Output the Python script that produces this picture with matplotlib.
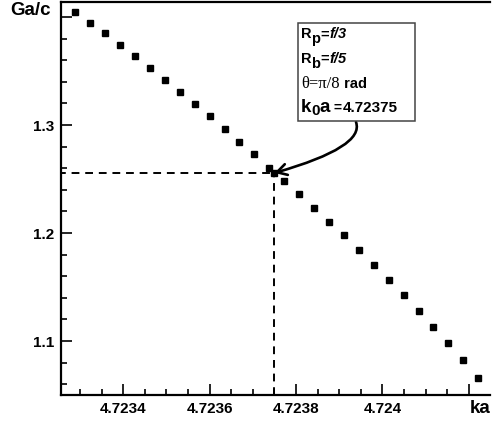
import matplotlib
matplotlib.use("Agg")
import matplotlib.pyplot as plt
from matplotlib.patches import Rectangle
from matplotlib.ticker import MultipleLocator

plt.rcParams['font.family'] = ['Liberation Sans', 'DejaVu Sans']

# k0*a values and normalized G (Ga/c)
ka = [4.723288, 4.723323, 4.723358, 4.723392, 4.723427, 4.723462,
      4.723497, 4.723531, 4.723566, 4.723601, 4.723635, 4.723669,
      4.723703, 4.723738, 4.723750, 4.723773, 4.723807, 4.723842,
      4.723876, 4.723911, 4.723946, 4.723980, 4.724015, 4.724049,
      4.724084, 4.724118, 4.724152, 4.724187, 4.724222]
gac = [1.4049, 1.3947, 1.3849, 1.3741, 1.3639, 1.3525,
       1.3414, 1.3306, 1.3194, 1.3083, 1.2963, 1.2845,
       1.2729, 1.2605, 1.2556, 1.2484, 1.2364, 1.2236,
       1.2105, 1.1979, 1.1840, 1.1701, 1.1562, 1.1423,
       1.1278, 1.1127, 1.0981, 1.0824, 1.0655]

k0a_mark = 4.72375
gac_mark = 1.2556

xticks = [4.7234, 4.7236, 4.7238, 4.7240, 4.7242]
xticklabels = ["4.7234", "4.7236", "4.7238", "4.724", ""]
yticks = [1.1, 1.2, 1.3, 1.4]
yticklabels = ["1.1", "1.2", "1.3", ""]

W, H = 492, 423
fig = plt.figure(figsize=(W / 100, H / 100), dpi=100)
ax = fig.add_axes([61 / W, 28 / H, 429 / W, 393 / H])

ax.plot(ka, gac, ls='none', marker='s', ms=4, color='black')

# dashed guide lines to the marked point
ax.plot([4.72325, k0a_mark], [gac_mark, gac_mark], color='black',
        lw=1.4, ls=(0, (4, 3)))
ax.plot([k0a_mark, k0a_mark], [1.05, gac_mark], color='black',
        lw=1.4, ls=(0, (4, 3)))

ax.set_xlim(4.723256, 4.724249)
ax.set_ylim(1.05, 1.4139)

ax.set_xticks(xticks)
ax.set_xticklabels(xticklabels)
ax.set_yticks(yticks)
ax.set_yticklabels(yticklabels)
ax.xaxis.set_minor_locator(MultipleLocator(0.00005))
ax.yaxis.set_minor_locator(MultipleLocator(0.02))
ax.tick_params(which='both', direction='in', width=1.2, top=False, right=False)
ax.tick_params(which='major', length=8, labelsize=11, pad=5)
ax.tick_params(which='minor', length=4.5)
for lab in ax.get_xticklabels() + ax.get_yticklabels():
    lab.set_fontweight('bold')

for side in ['left', 'bottom', 'top']:
    ax.spines[side].set_linewidth(1.6)
ax.spines['right'].set_visible(False)

fig.text(10 / W, 1 - 15 / H, "Ga/c", fontsize=13.5, fontweight='bold',
         va='baseline', ha='left')
fig.text(470 / W, 1 - 413 / H, "ka", fontsize=13.5, fontweight='bold',
         va='baseline', ha='left')

# info box (drawn on the axes so the text pieces can sit above it)
ax.add_patch(Rectangle((298 / W, 1 - 121 / H), 117 / W, 98 / H,
                       transform=fig.transFigure, facecolor='white',
                       edgecolor='#444444', lw=1.1, zorder=4, clip_on=False))

SANS = 'Liberation Sans'
SERIF = 'Liberation Serif'
# (text, size, baseline shift in pt, family, weight, style)
box_lines = [
    (38.5, [("R", 10.5, 0, SANS, 'bold', 'normal'),
            ("p", 10.5, -3.5, SANS, 'bold', 'normal'),
            ("=", 10.5, 0, SANS, 'bold', 'normal'),
            ("f/3", 10.5, 0, SANS, 'bold', 'italic')]),
    (63, [("R", 10.5, 0, SANS, 'bold', 'normal'),
          ("b", 10.5, -3.5, SANS, 'bold', 'normal'),
          ("=", 10.5, 0, SANS, 'bold', 'normal'),
          ("f/5", 10.5, 0, SANS, 'bold', 'italic')]),
    (88, [("θ=π/8", 12, 0, SERIF, 'normal', 'normal'),
          (" rad", 10.5, 0, SANS, 'bold', 'normal')]),
    (112.5, [("k", 13.5, 0, SANS, 'bold', 'normal'),
             ("0", 11, -1.8, SANS, 'bold', 'normal'),
             ("a", 13.5, 0, SANS, 'bold', 'normal'),
             (" =", 10, 0, SANS, 'bold', 'normal'),
             ("4.72375", 11, 0, SANS, 'bold', 'normal')]),
]
for base, pieces in box_lines:
    prev = None
    for s, fs, dy, fam, fw, st in pieces:
        kw = dict(fontsize=fs, family=fam, fontweight=fw, fontstyle=st,
                  va='baseline', ha='left', zorder=5)
        if prev is None:
            prev = ax.text(301 / W, 1 - base / H, s, transform=fig.transFigure,
                           clip_on=False, **kw)
        else:
            prev = ax.annotate(s, xy=(1, 1 - base / H),
                               xycoords=(prev, 'figure fraction'),
                               xytext=(0, dy), textcoords='offset points',
                               annotation_clip=False, **kw)

ax.annotate("", xy=(k0a_mark, gac_mark), xycoords='data',
            xytext=(356 / W, 1 - 122 / H), textcoords='figure fraction',
            arrowprops=dict(arrowstyle='->,head_length=0.7,head_width=0.4',
                            lw=1.9, color='black', shrinkA=0, shrinkB=0,
                            connectionstyle='angle3,angleA=-70,angleB=16'))

fig.savefig("out.png", dpi=100)
